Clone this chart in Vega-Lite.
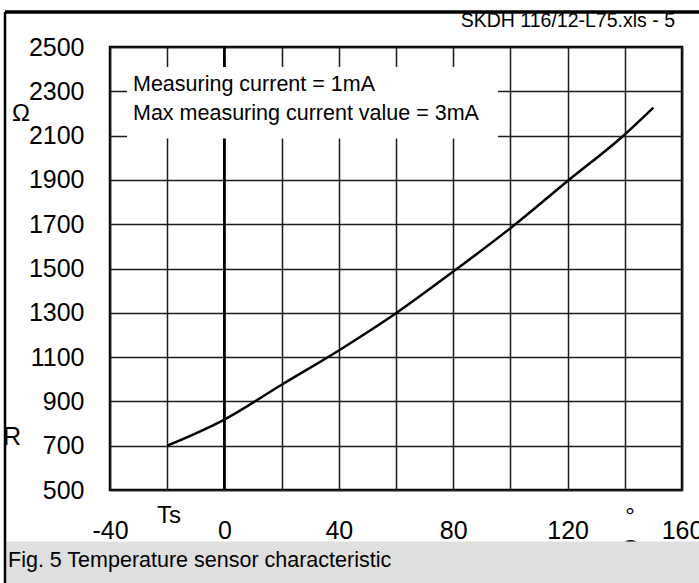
{
  "$schema": "https://vega.github.io/schema/vega-lite/v6.json",
  "width": 572,
  "height": 443,
  "autosize": {"type": "none"},
  "padding": {"left": 110, "top": 47, "right": 17, "bottom": 93},
  "background": "white",
  "config": {
    "view": {"stroke": "#000", "strokeWidth": 2.5},
    "font": "Liberation Sans",
    "text": {"font": "Liberation Sans", "color": "#000"}
  },
  "datasets": {
    "curve": [
      {"T": -20, "R": 700},
      {"T": 0, "R": 818},
      {"T": 20, "R": 975},
      {"T": 40, "R": 1130},
      {"T": 60, "R": 1298},
      {"T": 80, "R": 1486},
      {"T": 100, "R": 1682},
      {"T": 120, "R": 1895},
      {"T": 140, "R": 2105},
      {"T": 150, "R": 2226}
    ],
    "one": [{}]
  },
  "layer": [
    {
      "data": {"name": "curve"},
      "mark": {"type": "line", "color": "#000", "strokeWidth": 2.5, "interpolate": "monotone", "opacity": 0},
      "encoding": {
        "x": {
          "field": "T", "type": "quantitative",
          "scale": {"domain": [-40, 160], "nice": false, "zero": false},
          "axis": {
            "title": null,
            "values": [-40, -20, 0, 20, 40, 60, 80, 100, 120, 140, 160],
            "labelExpr": "datum.value % 40 === 0 ? '' + datum.value : ''",
            "ticks": false, "domain": false,
            "grid": true, "gridColor": "#1a1a1a", "gridWidth": 1.5, "gridOpacity": 1,
            "labelFontSize": 25, "labelFont": "Liberation Sans", "labelColor": "#000",
            "labelPadding": 48, "labelBaseline": "alphabetic",
            "labelOverlap": false, "labelFlush": false, "labelBound": false
          }
        },
        "y": {
          "field": "R", "type": "quantitative",
          "scale": {"domain": [500, 2500], "nice": false, "zero": false},
          "axis": {
            "title": null,
            "values": [500, 600, 700, 800, 900, 1000, 1100, 1200, 1300, 1400, 1500, 1600, 1700, 1800, 1900, 2000, 2100, 2200, 2300, 2400, 2500],
            "labelExpr": "(datum.value - 500) % 200 === 0 ? '' + datum.value : ''",
            "ticks": false, "domain": false,
            "grid": true, "gridColor": "#1a1a1a", "gridWidth": 1.5, "gridOpacity": 1,
            "labelFontSize": 25, "labelFont": "Liberation Sans", "labelColor": "#000",
            "labelPadding": 26, "labelBaseline": "middle",
            "labelOverlap": false, "labelFlush": false, "labelBound": false
          }
        }
      }
    },
    {
      "data": {"name": "one"},
      "mark": {"type": "rule", "color": "#000", "strokeWidth": 2.8},
      "encoding": {"x": {"datum": 0}, "y": {"datum": 500}, "y2": {"datum": 2500}}
    },
    {
      "data": {"name": "one"},
      "mark": {"type": "rect", "color": "#fff"},
      "encoding": {"x": {"datum": -34.05}, "x2": {"datum": 95.66}, "y": {"datum": 2410}, "y2": {"datum": 2087}}
    },
    {
      "data": {"name": "one"},
      "mark": {"type": "text", "fontSize": 21.5, "align": "left", "baseline": "alphabetic"},
      "encoding": {"x": {"datum": -31.96}, "y": {"datum": 2301.4}, "text": {"value": "Measuring current = 1mA"}}
    },
    {
      "data": {"name": "one"},
      "mark": {"type": "text", "fontSize": 21.5, "align": "left", "baseline": "alphabetic"},
      "encoding": {"x": {"datum": -31.96}, "y": {"datum": 2170.4}, "text": {"value": "Max measuring current value = 3mA"}}
    },
    {
      "data": {"name": "one"},
      "mark": {"type": "text", "fontSize": 19.5, "align": "right", "baseline": "alphabetic"},
      "encoding": {"x": {"datum": 157.55}, "y": {"datum": 2590.3}, "text": {"value": "SKDH 116/12-L75.xls - 5"}}
    },
    {
      "data": {"name": "one"},
      "mark": {"type": "text", "fontSize": 24, "align": "left", "baseline": "alphabetic"},
      "encoding": {"x": {"datum": -74.27}, "y": {"datum": 2165.9}, "text": {"value": "Ω"}}
    },
    {
      "data": {"name": "one"},
      "mark": {"type": "text", "fontSize": 25, "align": "left", "baseline": "alphabetic"},
      "encoding": {"x": {"datum": -77.41}, "y": {"datum": 703.1}, "text": {"value": "R"}}
    },
    {
      "data": {"name": "one"},
      "mark": {"type": "text", "fontSize": 24, "align": "left", "baseline": "alphabetic"},
      "encoding": {"x": {"datum": -23.57}, "y": {"datum": 351.0}, "text": {"value": "Ts"}}
    },
    {
      "data": {"name": "one"},
      "mark": {"type": "text", "fontSize": 24, "align": "center", "baseline": "alphabetic"},
      "encoding": {"x": {"datum": 141.82}, "y": {"datum": 346.5}, "text": {"value": "°"}}
    },
    {
      "data": {"name": "one"},
      "mark": {"type": "text", "fontSize": 24, "align": "center", "baseline": "alphabetic"},
      "encoding": {"x": {"datum": 141.82}, "y": {"datum": 197.5}, "text": {"value": "C"}}
    },
    {
      "data": {"name": "one"},
      "mark": {"type": "rect", "color": "#dfdfdf"},
      "encoding": {"x": {"datum": -76.2}, "x2": {"datum": 166.5}, "y": {"datum": 267.5}, "y2": {"datum": 70}}
    },
    {
      "data": {"name": "one"},
      "mark": {"type": "text", "fontSize": 21.5, "align": "left", "baseline": "alphabetic"},
      "encoding": {"x": {"datum": -75.66}, "y": {"datum": 152.3}, "text": {"value": "Fig. 5 Temperature sensor characteristic"}}
    },
    {
      "data": {"name": "one"},
      "mark": {"type": "rule", "color": "#000", "strokeWidth": 3.5},
      "encoding": {"x": {"datum": -76.71}, "x2": {"datum": 167}, "y": {"datum": 2658}}
    },
    {
      "data": {"name": "one"},
      "mark": {"type": "rule", "color": "#000", "strokeWidth": 2.5},
      "encoding": {"x": {"datum": -76.71}, "y": {"datum": 2658}, "y2": {"datum": 70}}
    },
    {
      "data": {"name": "curve"},
      "mark": {"type": "line", "color": "#000", "strokeWidth": 2.5, "interpolate": "monotone"},
      "encoding": {
        "x": {"field": "T", "type": "quantitative"},
        "y": {"field": "R", "type": "quantitative"}
      }
    }
  ]
}
